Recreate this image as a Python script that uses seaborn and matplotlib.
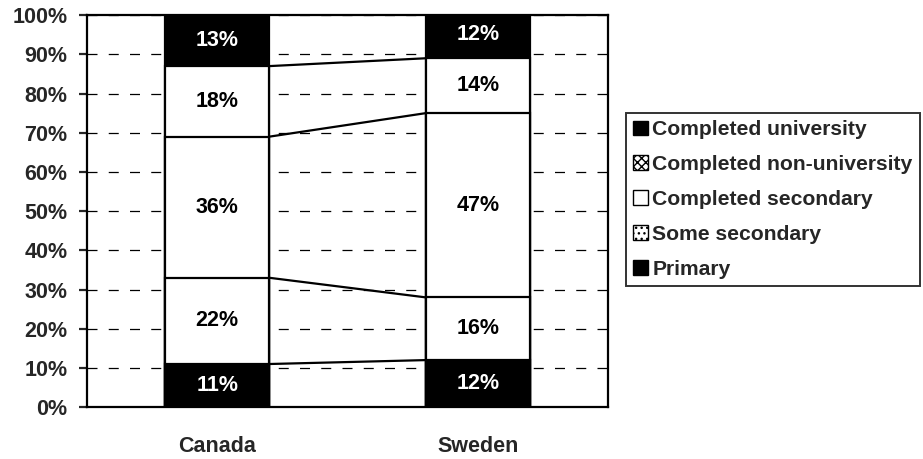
import matplotlib
matplotlib.use('Agg')
import matplotlib.pyplot as plt
from matplotlib.patches import Patch
import pandas as pd
import seaborn as sns

# --- Data (percent of population by education level) ---
countries = ['Canada', 'Sweden']
levels = ['Primary', 'Some secondary', 'Completed secondary',
          'Completed non-university', 'Completed university']
primary = [11, 12]
some_secondary = [22, 16]
completed_secondary = [36, 47]
completed_non_university = [18, 14]
completed_university = [13, 12]
y_ticks = [0, 10, 20, 30, 40, 50, 60, 70, 80, 90, 100]

series = [primary, some_secondary, completed_secondary,
          completed_non_university, completed_university]
fills = ['black', 'white', 'white', 'white', 'black']

# cumulative tops for stacking
df = pd.DataFrame({'country': countries})
running = [0, 0]
for name, vals in zip(levels, series):
    running = [r + v for r, v in zip(running, vals)]
    df[name] = running

sns.set_style('white')
plt.rcParams['font.family'] = ['Liberation Sans', 'DejaVu Sans']

fig, ax = plt.subplots(figsize=(9.23, 4.59), dpi=100)
fig.subplots_adjust(left=0.094, right=0.659, bottom=0.113, top=0.967)

bar_w = 0.4
# draw from the top segment downwards so lower segments overwrite
for name, col in reversed(list(zip(levels, fills))):
    sns.barplot(data=df, x='country', y=name, color=col, saturation=1,
                width=bar_w, edgecolor='black', linewidth=1.6,
                errorbar=None, ax=ax)

# series lines between the bars
for name in levels[:-1]:
    ax.plot([bar_w / 2, 1 - bar_w / 2], df[name].tolist(),
            color='black', lw=1.6, zorder=3)

# segment labels
for name, vals, col in zip(levels, series, fills):
    for i in range(len(countries)):
        mid = df[name].iloc[i] - vals[i] / 2
        ax.text(i, mid, f'{vals[i]}%', ha='center', va='center',
                fontsize=15.5, fontweight='bold',
                color='white' if col == 'black' else 'black', zorder=4)

ax.set_xlim(-0.5, 1.5)
ax.set_ylim(0, 100)
ax.set_yticks(y_ticks)
ax.set_yticklabels([f'{v}%' for v in y_ticks], fontsize=15.5, fontweight='bold')
ax.set_xticks([0, 1])
ax.set_xticklabels(countries, fontsize=15.5, fontweight='bold')
ax.set_xticks([-0.5, 0.5, 1.5], minor=True)
ax.tick_params(axis='x', which='major', length=0, pad=21)
ax.tick_params(axis='x', which='minor', direction='out', length=5, width=1.2)
ax.tick_params(axis='y', direction='out', length=6, width=1.6, left=True, pad=8)
ax.set_xlabel('')
ax.set_ylabel('')

ax.yaxis.grid(True, linestyle=(0, (8, 9)), color='black', lw=0.9)
ax.set_axisbelow(True)
for sp in ax.spines.values():
    sp.set_visible(True)
    sp.set_color('black')
    sp.set_linewidth(1.6)

handles = [
    Patch(facecolor='black', edgecolor='black', label='Completed university'),
    Patch(facecolor='white', edgecolor='black', hatch='xxxx', label='Completed non-university'),
    Patch(facecolor='white', edgecolor='black', label='Completed secondary'),
    Patch(facecolor='white', edgecolor='black', hatch='...', label='Some secondary'),
    Patch(facecolor='black', edgecolor='black', label='Primary'),
]
leg = fig.legend(handles=handles, loc='upper left',
                 bbox_to_anchor=(626 / 923, 1 - 113 / 459),
                 frameon=True, fancybox=False, edgecolor='black',
                 prop={'size': 15.2, 'weight': 'bold'},
                 handlelength=0.7, handleheight=0.7, handletextpad=0.2,
                 labelspacing=0.75, borderpad=0.35, borderaxespad=0)
leg.get_frame().set_linewidth(1.4)

plt.savefig('out.png', dpi=100)
